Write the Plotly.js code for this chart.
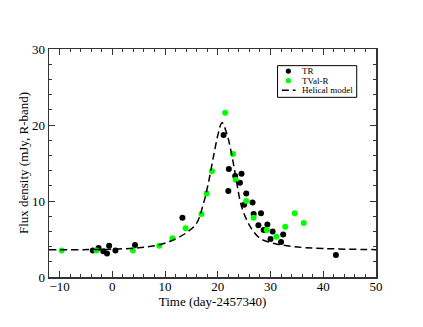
<!DOCTYPE html>
<html>
<head>
<meta charset="utf-8">
<script src="https://cdn.plot.ly/plotly-3.0.1.min.js"></script>
<style>
  html, body { margin: 0; padding: 0; background: #fff; }
  #plot { width: 423px; height: 327px; }
</style>
</head>
<body>
<div id="plot"></div>
<script>
// TR photometry (day-2457340, mJy)
const trTime = [-3.7, -2.6, -1.7, -1.0, -0.6, 0.6, 4.3, 13.3, 21.1, 22.1, 22.0, 23.3, 24.2, 24.5, 25.4, 25.0, 26.6, 26.8, 27.7, 28.2, 28.7, 29.4, 30.0, 30.4, 32.0, 32.4, 42.4];
const trFlux = [3.5, 3.8, 3.4, 3.1, 4.1, 3.5, 4.2, 7.8, 18.7, 14.2, 11.3, 13.3, 12.4, 13.6, 11.0, 9.5, 9.8, 8.3, 6.8, 8.4, 6.2, 6.9, 5.0, 6.0, 4.6, 5.6, 2.9];

// TVal-R photometry
const tvTime = [-9.6, -3.0, 3.9, 8.9, 11.4, 13.9, 16.9, 17.9, 18.9, 21.4, 22.9, 23.4, 25.4, 26.8, 29.3, 31.1, 32.8, 34.6, 36.3];
const tvFlux = [3.5, 3.5, 3.5, 4.1, 5.1, 6.4, 8.3, 11.0, 13.9, 21.6, 16.2, 12.8, 10.0, 7.8, 6.2, 5.3, 6.6, 8.4, 7.1];

// helical model curve
const modelTime = [-12, 0, 5, 8, 11, 14, 16, 17.3, 18.2, 19.2, 20.1, 20.8, 21.7, 22.7, 23.6, 24.5, 26.1, 28, 30.5, 34.3, 40, 50];
const modelFlux = [3.6, 3.65, 3.85, 4.1, 4.7, 5.8, 7.1, 9.7, 12.3, 15.9, 18.9, 20.3, 18.9, 15.9, 12.4, 9.3, 6.7, 5.1, 4.45, 4.0, 3.75, 3.6];

const legendNames = ["TR", "TVal-R", "Helical model"];

const serif = "Liberation Serif, Times New Roman, serif";
const green = "#00ff00";
const modelDash = "7px,4px";

const traces = [
  {
    type: "scatter", mode: "markers", name: legendNames[0],
    x: trTime, y: trFlux,
    marker: {color: "#000000", size: 6}
  },
  {
    type: "scatter", mode: "markers", name: legendNames[1],
    x: tvTime, y: tvFlux,
    marker: {color: green, size: 6}
  },
  {
    type: "scatter", mode: "lines", name: legendNames[2],
    x: modelTime, y: modelFlux,
    line: {color: "#000000", width: 1.5, dash: modelDash, shape: "spline", smoothing: 1}
  }
];

function axis(range, titleText){
  return {
    range: range, autorange: false,
    title: {text: titleText, font: {family: serif, size: 13, color: "#000"}, standoff: 0},
    tickmode: "linear", dtick: 10,
    ticks: "inside", ticklen: 6, tickwidth: 1, tickcolor: "#333",
    minor: {dtick: 2, ticks: "inside", ticklen: 3, tickcolor: "#333"},
    showline: true, linecolor: "#333", linewidth: 1.5, mirror: "ticks",
    showgrid: false, zeroline: false,
    tickfont: {family: serif, size: 13, color: "#000"}
  };
}

const xaxis = axis([-12, 50], "Time (day-2457340)");
xaxis.ticklabelstandoff = -3;

// hand-drawn legend box (plotly's own legend rows are too tall here)
const rowY = [0.903, 0.861, 0.819];
const shapes = [
  {type: "rect", xref: "paper", yref: "paper", x0: 0.699, x1: 0.941, y0: 0.788, y1: 0.927,
   line: {color: "#000", width: 1}, fillcolor: "#fff", layer: "above"},
  {type: "circle", xref: "paper", yref: "paper", xsizemode: "pixel", ysizemode: "pixel",
   xanchor: 0.732, yanchor: rowY[0], x0: -2.6, x1: 2.6, y0: -2.6, y1: 2.6,
   fillcolor: "#000", line: {width: 0}, layer: "above"},
  {type: "circle", xref: "paper", yref: "paper", xsizemode: "pixel", ysizemode: "pixel",
   xanchor: 0.732, yanchor: rowY[1], x0: -2.6, x1: 2.6, y0: -2.6, y1: 2.6,
   fillcolor: green, line: {width: 0}, layer: "above"},
  {type: "line", xref: "paper", yref: "paper", x0: 0.712, x1: 0.754, y0: rowY[2], y1: rowY[2],
   line: {color: "#000", width: 1.5, dash: modelDash}, layer: "above"}
];
const annotations = legendNames.map((n, i) => ({
  xref: "paper", yref: "paper", x: 0.768, y: rowY[i], xanchor: "left", yanchor: "middle",
  text: n, showarrow: false, font: {family: serif, size: 9, color: "#000"}
}));

const layout = {
  width: 423, height: 327,
  margin: {l: 49, r: 47, t: 49, b: 50},
  paper_bgcolor: "#fff", plot_bgcolor: "#fff",
  font: {family: serif, color: "#000"},
  xaxis: xaxis,
  yaxis: axis([0, 30], "Flux density (mJy, R-band)"),
  showlegend: false,
  shapes: shapes,
  annotations: annotations
};

Plotly.newPlot("plot", traces, layout, {displayModeBar: false, staticPlot: true});
</script>
</body>
</html>
